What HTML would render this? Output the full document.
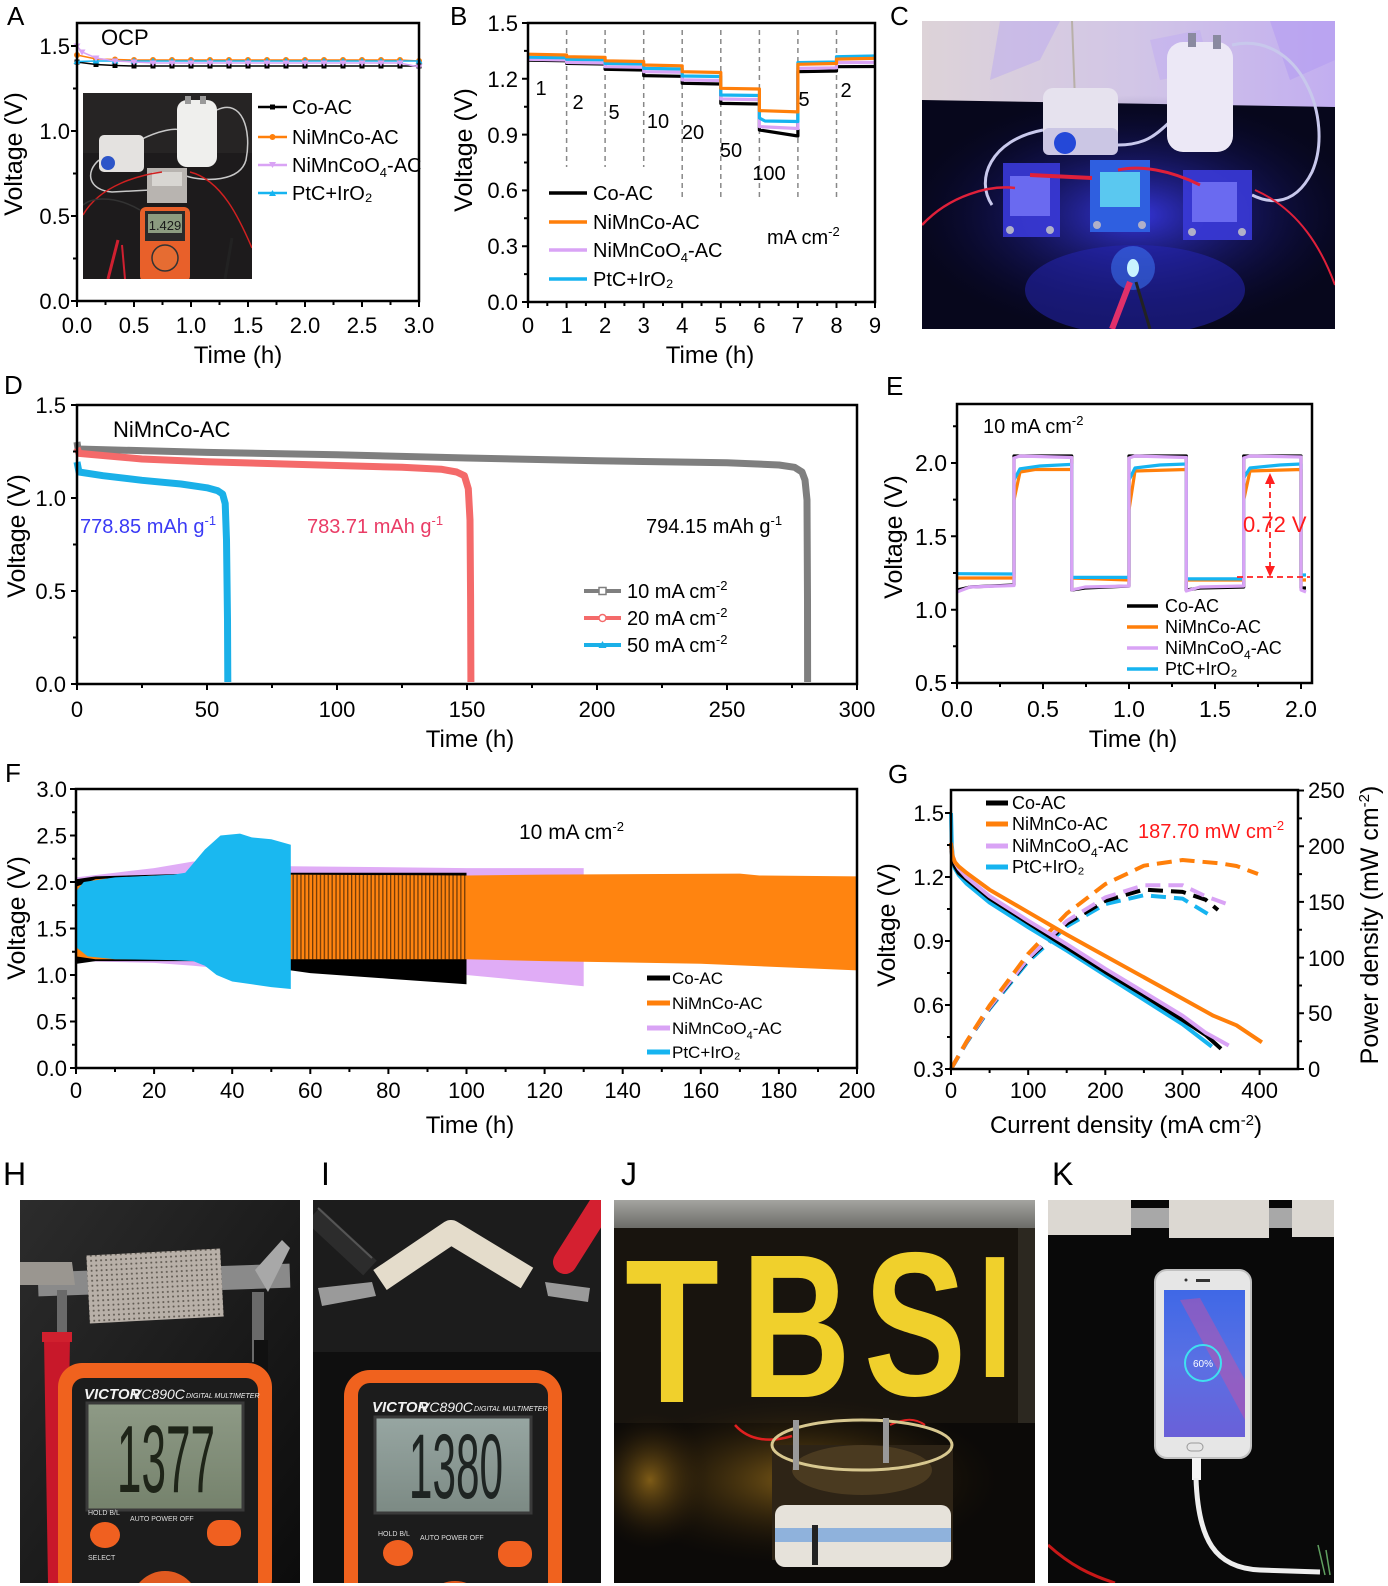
<!DOCTYPE html>
<html><head><meta charset="utf-8"><style>
html,body{margin:0;padding:0;background:#fff}
svg{display:block}
text{font-family:"Liberation Sans",Arial,sans-serif;fill:#000}
</style></head><body>
<svg width="1388" height="1586" viewBox="0 0 1388 1586" xmlns="http://www.w3.org/2000/svg">
<defs>
<marker id="mA1" markerUnits="userSpaceOnUse" markerWidth="8" markerHeight="8" refX="4" refY="4" viewBox="0 0 8 8"><rect x="1.5" y="1.5" width="5" height="5" fill="#000"/></marker>
<marker id="mA2" markerUnits="userSpaceOnUse" markerWidth="8" markerHeight="8" refX="4" refY="4" viewBox="0 0 8 8"><circle cx="4" cy="4" r="3" fill="#ff7f0a"/></marker>
<marker id="mA3" markerUnits="userSpaceOnUse" markerWidth="8" markerHeight="8" refX="4" refY="4" viewBox="0 0 8 8"><path d="M0.5,1.5 L7.5,1.5 L4,7.5Z" fill="#d9a3f5"/></marker>
<marker id="mA4" markerUnits="userSpaceOnUse" markerWidth="8" markerHeight="8" refX="4" refY="4" viewBox="0 0 8 8"><path d="M0.5,6.5 L7.5,6.5 L4,0.5Z" fill="#16b4f0"/></marker>
<linearGradient id="wallC" x1="0" y1="0" x2="1" y2="0"><stop offset="0" stop-color="#ddd3d8"/><stop offset="0.5" stop-color="#d2c6e6"/><stop offset="1" stop-color="#c2aef0"/></linearGradient>
<radialGradient id="glowC" cx="0.5" cy="0.5" r="0.5"><stop offset="0" stop-color="#3a3af0" stop-opacity="0.9"/><stop offset="1" stop-color="#0a0a40" stop-opacity="0"/></radialGradient>
<radialGradient id="glowJ" cx="0.5" cy="0.5" r="0.5"><stop offset="0" stop-color="#8a6418" stop-opacity="0.9"/><stop offset="1" stop-color="#201508" stop-opacity="0"/></radialGradient>
<linearGradient id="bgH" x1="0" y1="0" x2="1" y2="1"><stop offset="0" stop-color="#2c2c2c"/><stop offset="1" stop-color="#0c0c0c"/></linearGradient>
<linearGradient id="lcd" x1="0" y1="0" x2="0" y2="1"><stop offset="0" stop-color="#8e9a86"/><stop offset="1" stop-color="#75826c"/></linearGradient>
<linearGradient id="lcd2" x1="0" y1="0" x2="0" y2="1"><stop offset="0" stop-color="#97a6a2"/><stop offset="1" stop-color="#7c8a84"/></linearGradient>
<linearGradient id="phone" x1="0" y1="0" x2="0" y2="1"><stop offset="0" stop-color="#3f68e6"/><stop offset="0.5" stop-color="#5a70e4"/><stop offset="1" stop-color="#6a60d8"/></linearGradient>
<linearGradient id="topJ" x1="0" y1="0" x2="0" y2="1"><stop offset="0" stop-color="#a4a4a0"/><stop offset="1" stop-color="#6c6c68"/></linearGradient>
<pattern id="dots" width="5" height="5" patternUnits="userSpaceOnUse"><rect width="5" height="5" fill="#b8b0a8"/><circle cx="2.5" cy="2.5" r="1" fill="#5e5850"/></pattern>
<pattern id="vstripe" width="3.9" height="10" patternUnits="userSpaceOnUse"><rect width="1.3" height="10" fill="#000"/></pattern>
<clipPath id="cC"><rect x="922" y="21" width="413" height="308"/></clipPath>
<clipPath id="cAi"><rect x="83" y="93" width="169" height="186"/></clipPath>
<clipPath id="cH"><rect x="20" y="1200" width="280" height="383"/></clipPath>
<clipPath id="cI"><rect x="313" y="1200" width="288" height="383"/></clipPath>
<clipPath id="cJ"><rect x="614" y="1200" width="421" height="383"/></clipPath>
<clipPath id="cK"><rect x="1048" y="1200" width="286" height="383"/></clipPath>
</defs>

<!-- Panel labels -->
<g font-size="26">
<text x="7" y="25">A</text><text x="450" y="25">B</text><text x="890" y="25">C</text>
<text x="4" y="394">D</text><text x="886" y="395">E</text>
<text x="5" y="782">F</text><text x="888" y="783">G</text>
</g>
<g font-size="32">
<text x="3" y="1185">H</text><text x="321" y="1185">I</text><text x="621" y="1185">J</text><text x="1052" y="1185">K</text>
</g>

<!-- ================= PANEL A ================= -->
<g clip-path="url(#cAi)">
<rect x="83" y="93" width="169" height="186" fill="#1d1b1c"/>
<rect x="83" y="93" width="169" height="60" fill="#262424"/>
<path d="M99,160 C85,172 88,190 112,192 L150,190" stroke="#c8c8c8" stroke-width="1.5" fill="none"/>
<path d="M217,110 C242,98 252,130 246,160 C240,182 205,182 186,176" stroke="#c8c8c8" stroke-width="1.5" fill="none"/>
<path d="M140,140 C160,130 175,128 180,130" stroke="#c8c8c8" stroke-width="1.5" fill="none"/>
<rect x="99" y="135" width="45" height="37" rx="5" fill="#e4e2e0"/>
<circle cx="108" cy="163" r="7" fill="#2d55c8"/>
<rect x="177" y="100" width="40" height="67" rx="10" fill="#efefed"/>
<rect x="185" y="96" width="6" height="8" fill="#999"/><rect x="200" y="96" width="6" height="8" fill="#999"/>
<rect x="147" y="168" width="40" height="35" fill="#b8b4b0"/>
<rect x="152" y="172" width="30" height="14" fill="#d8d6d2"/>
<path d="M83,215 C100,185 140,175 162,172" stroke="#d02020" stroke-width="1.5" fill="none"/>
<path d="M190,172 C222,180 240,220 252,248" stroke="#d02020" stroke-width="1.5" fill="none"/>
<path d="M83,205 C95,195 120,198 140,210" stroke="#333" stroke-width="1.5" fill="none"/>
<rect x="140" y="207" width="50" height="75" rx="6" fill="#e8602a"/>
<rect x="145" y="211" width="40" height="30" fill="#2a2a2a"/>
<rect x="148" y="214" width="34" height="19" fill="#8c9c80"/>
<text x="165" y="230" font-size="13" text-anchor="middle" style="fill:#1a1a1a">1.429</text>
<circle cx="165" cy="258" r="13" fill="#e66c32" stroke="#333" stroke-width="1.5"/>
<path d="M108,279 L118,240" stroke="#d02030" stroke-width="3"/>
<path d="M125,279 L122,245" stroke="#d02030" stroke-width="2"/>
<path d="M225,279 L232,238" stroke="#222" stroke-width="3"/>
</g>
<g fill="none" stroke-width="1.5">
<polyline stroke="#000" marker-start="url(#mA1)" marker-mid="url(#mA1)" marker-end="url(#mA1)" points="77,62 96,64.5 115,65.5 134,66 153,66 172,66 191,66 210,66 229,66 248,66 267,66 286,66 305,66 324,66 343,66 362,66 381,66 400,66 419,66"/>
<polyline stroke="#ff7f0a" marker-start="url(#mA2)" marker-mid="url(#mA2)" marker-end="url(#mA2)" points="77,55 96,59 115,59.5 134,60 153,60 172,60 191,60 210,60 229,60 248,60 267,60 286,60 305,60 324,60 343,60 362,60 381,60 400,60 419,61"/>
<polyline stroke="#16b4f0" marker-start="url(#mA4)" marker-mid="url(#mA4)" marker-end="url(#mA4)" points="77,61.5 96,61 115,61 134,61 153,61 172,61 191,61 210,61 229,61 248,61 267,61 286,61 305,61 324,61 343,61 362,61 381,61 400,61 419,61"/>
<polyline stroke="#d9a3f5" marker-start="url(#mA3)" marker-mid="url(#mA3)" marker-end="url(#mA3)" points="77,46 82,52 96,58 115,61 134,62 153,63 172,63 191,63 210,63 229,63 248,63 267,63 286,63 305,63 324,63 343,63 362,63 381,63 400,63 419,67"/>
</g>
<rect x="77" y="23" width="342" height="278" fill="none" stroke="#000" stroke-width="2.5"/>
<path d="M77,301h-6M77,216h-6M77,131h-6M77,46h-6M77,258.5h-4M77,173.5h-4M77,88.5h-4M77,301v6M134,301v6M191,301v6M248,301v6M305,301v6M362,301v6M419,301v6M105.5,301v4M162.5,301v4M219.5,301v4M276.5,301v4M333.5,301v4M390.5,301v4" stroke="#000" stroke-width="2"/>
<g font-size="22" text-anchor="end">
<text x="70" y="309">0.0</text><text x="70" y="224">0.5</text><text x="70" y="139">1.0</text><text x="70" y="54">1.5</text>
</g>
<g font-size="22" text-anchor="middle">
<text x="77" y="333">0.0</text><text x="134" y="333">0.5</text><text x="191" y="333">1.0</text><text x="248" y="333">1.5</text><text x="305" y="333">2.0</text><text x="362" y="333">2.5</text><text x="419" y="333">3.0</text>
</g>
<text x="238" y="363" font-size="24" text-anchor="middle">Time (h)</text>
<text transform="translate(22,154) rotate(-90)" font-size="25" text-anchor="middle">Voltage (V)</text>
<text x="101" y="45" font-size="22">OCP</text>
<g stroke-width="2.5">
<line x1="258" y1="107" x2="287" y2="107" stroke="#000"/><rect x="270" y="104.5" width="5" height="5" fill="#000"/>
<line x1="258" y1="137" x2="287" y2="137" stroke="#ff7f0a"/><circle cx="272.5" cy="137" r="3" fill="#ff7f0a"/>
<line x1="258" y1="165" x2="287" y2="165" stroke="#d9a3f5"/><path d="M269,162 L276,162 L272.5,168Z" fill="#d9a3f5"/>
<line x1="258" y1="193" x2="287" y2="193" stroke="#16b4f0"/><path d="M269,196 L276,196 L272.5,190Z" fill="#16b4f0"/>
</g>
<g font-size="20">
<text x="292" y="114">Co-AC</text>
<text x="292" y="144">NiMnCo-AC</text>
<text x="292" y="172">NiMnCoO<tspan dy="5" font-size="13">4</tspan><tspan dy="-5">-AC</tspan></text>
<text x="292" y="200">PtC+IrO₂</text>
</g>

<!-- ================= PANEL B ================= -->
<g stroke="#888" stroke-width="1.5" stroke-dasharray="5,4">
<line x1="566.6" y1="30" x2="566.6" y2="167"/><line x1="605.1" y1="30" x2="605.1" y2="167"/><line x1="643.7" y1="30" x2="643.7" y2="167"/>
<line x1="682.2" y1="30" x2="682.2" y2="198"/><line x1="720.8" y1="30" x2="720.8" y2="198"/><line x1="759.4" y1="30" x2="759.4" y2="198"/>
<line x1="797.9" y1="30" x2="797.9" y2="198"/><line x1="836.5" y1="30" x2="836.5" y2="198"/>
</g>
<g fill="none" stroke-width="3.2" stroke-linejoin="round">
<path stroke="#000" d="M528,60.2 L566.6,60.8 L566.6,63.4 L605.1,64 L605.1,69.3 L643.7,70 L643.7,75.6 L682.2,76.3 L682.2,83.3 L720.8,84 L720.8,103.4 L759.4,104 L759.4,130 L797.9,136 L797.9,71.7 L836.5,71 L836.5,66.7 L875,66.5"/>
<path stroke="#d9a3f5" d="M528,59.3 L566.6,60 L566.6,62.4 L605.1,63 L605.1,66.7 L643.7,67.3 L643.7,71.7 L682.2,72.3 L682.2,79.9 L720.8,80.5 L720.8,99 L759.4,99.6 L759.4,126.6 L797.9,128.5 L797.9,68.4 L836.5,67.8 L836.5,62.6 L875,62.3"/>
<path stroke="#16b4f0" d="M528,57.2 L566.6,57.8 L566.6,59.3 L605.1,59.8 L605.1,63.4 L643.7,64 L643.7,68.4 L682.2,69 L682.2,76 L720.8,76.5 L720.8,95 L759.4,95.5 L759.4,118 L765,121 L797.9,121.5 L797.9,62.6 L836.5,62 L836.5,56.7 L875,56"/>
<path stroke="#ff7f0a" d="M528,54.2 L566.6,55 L566.6,56.7 L605.1,57.4 L605.1,60.8 L643.7,61.5 L643.7,65 L682.2,65.8 L682.2,71.7 L720.8,72.5 L720.8,88.3 L759.4,89 L759.4,110.6 L797.9,111.9 L797.9,64.3 L836.5,63.5 L836.5,59.1 L875,58.3"/>
</g>
<rect x="528" y="23" width="347" height="279" fill="none" stroke="#000" stroke-width="2.5"/>
<path d="M528,302h-6M528,246.2h-6M528,190.4h-6M528,134.6h-6M528,78.8h-6M528,23h-6M528,274.1h-4M528,218.3h-4M528,162.5h-4M528,106.7h-4M528,50.9h-4M528,302v6M566.6,302v6M605.1,302v6M643.7,302v6M682.2,302v6M720.8,302v6M759.4,302v6M797.9,302v6M836.5,302v6M875,302v6M547.3,302v4M585.9,302v4M624.4,302v4M663,302v4M701.5,302v4M740.1,302v4M778.6,302v4M817.2,302v4M855.8,302v4" stroke="#000" stroke-width="2"/>
<g font-size="22" text-anchor="end">
<text x="518" y="310">0.0</text><text x="518" y="254">0.3</text><text x="518" y="198">0.6</text><text x="518" y="143">0.9</text><text x="518" y="87">1.2</text><text x="518" y="31">1.5</text>
</g>
<g font-size="22" text-anchor="middle">
<text x="528" y="333">0</text><text x="566.6" y="333">1</text><text x="605.1" y="333">2</text><text x="643.7" y="333">3</text><text x="682.2" y="333">4</text><text x="720.8" y="333">5</text><text x="759.4" y="333">6</text><text x="797.9" y="333">7</text><text x="836.5" y="333">8</text><text x="875" y="333">9</text>
</g>
<text x="710" y="363" font-size="24" text-anchor="middle">Time (h)</text>
<text transform="translate(472,150) rotate(-90)" font-size="25" text-anchor="middle">Voltage (V)</text>
<g font-size="20" text-anchor="middle">
<text x="541" y="95">1</text><text x="578" y="109">2</text><text x="614" y="119">5</text><text x="658" y="128">10</text><text x="693" y="139">20</text><text x="731" y="157">50</text><text x="769" y="180">100</text><text x="804" y="106">5</text><text x="846" y="97">2</text>
</g>
<text x="767" y="244" font-size="20">mA cm<tspan dy="-8" font-size="13">-2</tspan></text>
<g stroke-width="3.5">
<line x1="549" y1="193" x2="587" y2="193" stroke="#000"/>
<line x1="549" y1="222" x2="587" y2="222" stroke="#ff7f0a"/>
<line x1="549" y1="250" x2="587" y2="250" stroke="#d9a3f5"/>
<line x1="549" y1="279" x2="587" y2="279" stroke="#16b4f0"/>
</g>
<g font-size="20">
<text x="593" y="200">Co-AC</text>
<text x="593" y="229">NiMnCo-AC</text>
<text x="593" y="257">NiMnCoO<tspan dy="5" font-size="13">4</tspan><tspan dy="-5">-AC</tspan></text>
<text x="593" y="286">PtC+IrO₂</text>
</g>

<!-- ================= PANEL C (photo) ================= -->
<g clip-path="url(#cC)">
<rect x="922" y="21" width="413" height="308" fill="#07071c"/>
<polygon points="922,21 1335,21 1335,107 922,100" fill="url(#wallC)"/>
<polygon points="1000,21 1060,21 1040,60 990,80" fill="#bcaaf0" opacity="0.5"/>
<polygon points="1150,40 1200,30 1210,70 1160,80" fill="#c0acf2" opacity="0.5"/>
<polygon points="1270,21 1335,21 1335,60 1290,80" fill="#b49cf2" opacity="0.6"/>
<line x1="1072" y1="21" x2="1075" y2="100" stroke="#b8b0a8" stroke-width="2"/>
<ellipse cx="1135" cy="215" rx="230" ry="120" fill="url(#glowC)"/>
<ellipse cx="1135" cy="290" rx="110" ry="45" fill="#2424b0" opacity="0.55"/>
<path d="M1043,130 C990,140 975,180 992,205" stroke="#c8c8ec" stroke-width="3" fill="none"/>
<path d="M1118,145 C1150,145 1160,130 1172,120" stroke="#c8c8ec" stroke-width="3" fill="none"/>
<path d="M1232,45 C1300,30 1335,120 1312,172 C1292,212 1262,200 1252,195" stroke="#c8c8ec" stroke-width="3" fill="none"/>
<rect x="1043" y="88" width="75" height="67" rx="10" fill="#e6e2ee"/>
<rect x="1043" y="128" width="75" height="27" rx="6" fill="#cbc6e4"/>
<circle cx="1065" cy="143" r="11" fill="#2448d8"/>
<rect x="1167" y="42" width="66" height="110" rx="16" fill="#ece8f6"/>
<rect x="1188" y="33" width="8" height="14" fill="#8a8aa0"/><rect x="1213" y="35" width="8" height="14" fill="#8a8aa0"/>
<rect x="1003" y="163" width="57" height="74" fill="#3a3ad8" opacity="0.9"/>
<rect x="1010" y="176" width="40" height="40" fill="#6a6af0"/>
<rect x="1090" y="160" width="60" height="72" fill="#2f5fe0"/>
<rect x="1100" y="172" width="40" height="35" fill="#5ac8f0"/>
<rect x="1183" y="170" width="69" height="70" fill="#3a3ad8" opacity="0.9"/>
<rect x="1192" y="182" width="45" height="40" fill="#6a6af0"/>
<g fill="#b0b0c8"><circle cx="1010" cy="230" r="4"/><circle cx="1050" cy="230" r="4"/><circle cx="1097" cy="225" r="4"/><circle cx="1142" cy="225" r="4"/><circle cx="1192" cy="232" r="4"/><circle cx="1242" cy="232" r="4"/></g>
<path d="M922,225 C950,195 990,185 1015,188" stroke="#e0203a" stroke-width="2.5" fill="none"/>
<path d="M1030,175 L1092,178" stroke="#e0203a" stroke-width="4" fill="none"/>
<path d="M1118,170 C1140,165 1170,170 1200,185" stroke="#e0203a" stroke-width="3" fill="none"/>
<path d="M1255,190 C1300,210 1322,250 1335,285" stroke="#e0203a" stroke-width="2" fill="none"/>
<circle cx="1133" cy="268" r="22" fill="#4080ff" opacity="0.5"/>
<ellipse cx="1133" cy="268" rx="6" ry="9" fill="#c8f4ff"/>
<path d="M1130,282 L1112,329" stroke="#e0306a" stroke-width="6"/>
<path d="M1136,282 L1150,329" stroke="#222" stroke-width="3"/>
</g>

<!-- ================= PANEL D ================= -->
<g fill="none" stroke-width="7" stroke-linejoin="round">
<path stroke="#7f7f7f" d="M77,442 L78,449 L207,452.4 L337,454.8 L467,458 L597,460.8 L727,462.7 L779,465 L794.6,467.3 L802,472 L805,480 L807,500 L807.5,600 L807.6,682"/>
<path stroke="#f46a6a" d="M77,448 L79,453.4 L142,459 L207,461.7 L272,463.6 L337,465.5 L402,467.3 L441,469.2 L456.6,472 L464.4,475.7 L468.3,488.7 L470,520 L470.6,600 L470.9,682"/>
<path stroke="#1ab0e8" d="M77,462 L79,472 L103,475.7 L142,480.3 L181,484 L207,487.8 L217.4,490.6 L222.6,494 L225.2,503.6 L226.5,540 L227.5,620 L227.8,682"/>
</g>
<rect x="77" y="405" width="780" height="279" fill="none" stroke="#000" stroke-width="2.5"/>
<path d="M77,684h-6M77,591h-6M77,498h-6M77,405h-6M77,637.5h-4M77,544.5h-4M77,451.5h-4M77,684v6M207,684v6M337,684v6M467,684v6M597,684v6M727,684v6M857,684v6M142,684v4M272,684v4M402,684v4M532,684v4M662,684v4M792,684v4" stroke="#000" stroke-width="2"/>
<g font-size="22" text-anchor="end">
<text x="66" y="692">0.0</text><text x="66" y="599">0.5</text><text x="66" y="506">1.0</text><text x="66" y="413">1.5</text>
</g>
<g font-size="22" text-anchor="middle">
<text x="77" y="717">0</text><text x="207" y="717">50</text><text x="337" y="717">100</text><text x="467" y="717">150</text><text x="597" y="717">200</text><text x="727" y="717">250</text><text x="857" y="717">300</text>
</g>
<text x="470" y="747" font-size="24" text-anchor="middle">Time (h)</text>
<text transform="translate(25,536) rotate(-90)" font-size="25" text-anchor="middle">Voltage (V)</text>
<text x="113" y="437" font-size="22">NiMnCo-AC</text>
<text x="80" y="533" font-size="20" style="fill:#3a3af5">778.85 mAh g<tspan dy="-8" font-size="13" style="fill:#3a3af5">-1</tspan></text>
<text x="307" y="533" font-size="20" style="fill:#ea3c66">783.71 mAh g<tspan dy="-8" font-size="13" style="fill:#ea3c66">-1</tspan></text>
<text x="646" y="533" font-size="20">794.15 mAh g<tspan dy="-8" font-size="13">-1</tspan></text>
<g stroke-width="4">
<line x1="584" y1="591" x2="621" y2="591" stroke="#7f7f7f"/><rect x="599" y="587.5" width="7" height="7" fill="#fff" stroke="#7f7f7f" stroke-width="1.5"/>
<line x1="584" y1="618" x2="621" y2="618" stroke="#f46a6a"/><circle cx="602.5" cy="618" r="3.5" fill="#fff" stroke="#f46a6a" stroke-width="1.5"/>
<line x1="584" y1="645" x2="621" y2="645" stroke="#1ab0e8"/><path d="M598.5,648 L606.5,648 L602.5,641Z" fill="#1ab0e8"/>
</g>
<g font-size="20">
<text x="627" y="598">10 mA cm<tspan dy="-8" font-size="13">-2</tspan></text>
<text x="627" y="625">20 mA cm<tspan dy="-8" font-size="13">-2</tspan></text>
<text x="627" y="652">50 mA cm<tspan dy="-8" font-size="13">-2</tspan></text>
</g>

<!-- ================= PANEL E ================= -->
<g fill="none" stroke-width="3.2" stroke-linejoin="round">
<path stroke="#000" d="M957,590 L970,587 L1014,585 L1014,456 L1071.7,456 L1071.7,590 L1085,588 L1129,586 L1129,456 L1186.3,456 L1186.3,590 L1200,588 L1243.7,587 L1243.7,456 L1301,456 L1301,588 L1306,588"/>
<path stroke="#ff7f0a" d="M957,578 L1014,578 L1014,500 L1020,472 L1035,469.5 L1071.7,469.5 L1071.7,578 L1129,580 L1129,510 L1135,471 L1186.3,469.5 L1186.3,580 L1243.7,580 L1243.7,500 L1250,471 L1301,469.5 L1301,580 L1306,580"/>
<path stroke="#16b4f0" d="M957,573.7 L1014,574 L1014,480 L1020,468.8 L1040,466 L1071.7,464.4 L1071.7,577.4 L1129,577.4 L1129,480 L1135,468 L1160,465 L1186.3,464 L1186.3,578.9 L1243.7,578.9 L1243.7,478 L1250,468 L1280,465 L1301,464 L1301,575 L1306,575"/>
<path stroke="#d9a3f5" d="M957,592 L970,587 L1014,585.5 L1014,458 L1020,456 L1071.7,457.5 L1071.7,590 L1085,587 L1129,586 L1129,458 L1135,456 L1186.3,457.5 L1186.3,591 L1200,587 L1243.7,586 L1243.7,458 L1250,456 L1301,457 L1301,590 L1306,592"/>
</g>
<g stroke="#ff2020" stroke-width="1.8" fill="none" stroke-dasharray="6,4">
<line x1="1237" y1="577" x2="1310" y2="577"/>
<line x1="1270" y1="482" x2="1270" y2="568"/>
</g>
<path d="M1265,484 L1275,484 L1270,473Z M1265,566 L1275,566 L1270,577Z" fill="#ff2020"/>
<text x="1243" y="532" font-size="22" style="fill:#ff1a1a">0.72 V</text>
<rect x="957" y="404" width="355" height="279" fill="none" stroke="#000" stroke-width="2.5"/>
<path d="M957,683h-6M957,609.7h-6M957,536.3h-6M957,463h-6M957,646.3h-4M957,573h-4M957,499.6h-4M957,426.3h-4M957,683v6M1043,683v6M1129,683v6M1215,683v6M1301,683v6M1000,683v4M1086,683v4M1172,683v4M1258,683v4" stroke="#000" stroke-width="2"/>
<g font-size="23" text-anchor="end">
<text x="947" y="691">0.5</text><text x="947" y="618">1.0</text><text x="947" y="545">1.5</text><text x="947" y="471">2.0</text>
</g>
<g font-size="23" text-anchor="middle">
<text x="957" y="717">0.0</text><text x="1043" y="717">0.5</text><text x="1129" y="717">1.0</text><text x="1215" y="717">1.5</text><text x="1301" y="717">2.0</text>
</g>
<text x="1133" y="747" font-size="24" text-anchor="middle">Time (h)</text>
<text transform="translate(902,537) rotate(-90)" font-size="25" text-anchor="middle">Voltage (V)</text>
<text x="983" y="433" font-size="20">10 mA cm<tspan dy="-8" font-size="13">-2</tspan></text>
<g stroke-width="3.5">
<line x1="1127" y1="606" x2="1158" y2="606" stroke="#000"/>
<line x1="1127" y1="627" x2="1158" y2="627" stroke="#ff7f0a"/>
<line x1="1127" y1="648" x2="1158" y2="648" stroke="#d9a3f5"/>
<line x1="1127" y1="669" x2="1158" y2="669" stroke="#16b4f0"/>
</g>
<g font-size="18">
<text x="1165" y="612">Co-AC</text>
<text x="1165" y="633">NiMnCo-AC</text>
<text x="1165" y="654">NiMnCoO<tspan dy="5" font-size="12">4</tspan><tspan dy="-5">-AC</tspan></text>
<text x="1165" y="675">PtC+IrO₂</text>
</g>

<!-- ================= PANEL F ================= -->
<polygon fill="#e0acf6" points="76,877.4 115,872.7 154.1,868.1 193.2,861.5 232.2,863.4 290.8,866.2 466.5,868.1 583.7,868.1 583.7,986.2 466.5,975 290.8,970.4 232.2,969.4 193.2,965.7 154.1,962.9 115,962 76,961.1"/>
<polygon fill="#000" points="76,879.2 95.5,876.4 193.2,873.6 290.8,872.7 466.5,872.7 466.5,984.3 388.4,978.7 310.3,973.1 290.8,970.4 193.2,961.1 95.5,961.1 76,963.9"/>
<polygon fill="#ff8410" points="76,886.7 95.5,879.2 154.1,875.5 290.8,874.6 466.5,875.5 544.6,874.6 739.9,873.6 759.4,875.5 857,876.4 857,970.4 700.8,963.8 544.6,961.1 466.5,959.2 290.8,959.2 95.5,959.2 76,956.4"/>
<polygon fill="url(#vstripe)" opacity="0.55" points="290.8,874.6 466.5,875.5 466.5,959.2 290.8,959.2"/>
<polygon fill="#1ab8f0" points="76,891.3 83.8,882 115,877.4 173.6,874.6 185.3,872.7 193.2,863.4 204.9,849.5 220.5,835.5 240,833.6 251.7,837.4 271.3,839.2 290.8,844.8 290.8,989 271.3,987.1 251.7,984.3 232.2,981.5 216.6,975 204.9,965.7 193.2,961.1 173.6,960.1 115,959.2 87.7,956.4 76,947"/>
<rect x="76" y="789" width="781" height="279" fill="none" stroke="#000" stroke-width="2.5"/>
<path d="M76,1068h-6M76,1021.5h-6M76,975h-6M76,928.5h-6M76,882h-6M76,835.5h-6M76,789h-6M76,1044.75h-4M76,998.25h-4M76,951.75h-4M76,905.25h-4M76,858.75h-4M76,812.25h-4M76,1068v6M154.1,1068v6M232.2,1068v6M310.3,1068v6M388.4,1068v6M466.5,1068v6M544.6,1068v6M622.7,1068v6M700.8,1068v6M778.9,1068v6M857,1068v6M115,1068v4M193.2,1068v4M271.3,1068v4M349.4,1068v4M427.5,1068v4M505.6,1068v4M583.7,1068v4M661.8,1068v4M739.9,1068v4M818,1068v4" stroke="#000" stroke-width="2"/>
<g font-size="22" text-anchor="end">
<text x="67" y="1076">0.0</text><text x="67" y="1029.5">0.5</text><text x="67" y="983">1.0</text><text x="67" y="936.5">1.5</text><text x="67" y="890">2.0</text><text x="67" y="843.5">2.5</text><text x="67" y="797">3.0</text>
</g>
<g font-size="22" text-anchor="middle">
<text x="76" y="1098">0</text><text x="154.1" y="1098">20</text><text x="232.2" y="1098">40</text><text x="310.3" y="1098">60</text><text x="388.4" y="1098">80</text><text x="466.5" y="1098">100</text><text x="544.6" y="1098">120</text><text x="622.7" y="1098">140</text><text x="700.8" y="1098">160</text><text x="778.9" y="1098">180</text><text x="857" y="1098">200</text>
</g>
<text x="470" y="1133" font-size="24" text-anchor="middle">Time (h)</text>
<text transform="translate(25,918) rotate(-90)" font-size="25" text-anchor="middle">Voltage (V)</text>
<text x="519" y="839" font-size="21">10 mA cm<tspan dy="-8" font-size="13">-2</tspan></text>
<g stroke-width="5">
<line x1="647" y1="978" x2="670" y2="978" stroke="#000"/>
<line x1="647" y1="1003" x2="670" y2="1003" stroke="#ff7f0a"/>
<line x1="647" y1="1028" x2="670" y2="1028" stroke="#d9a3f5"/>
<line x1="647" y1="1052" x2="670" y2="1052" stroke="#16b4f0"/>
</g>
<g font-size="17">
<text x="672" y="984">Co-AC</text>
<text x="672" y="1009">NiMnCo-AC</text>
<text x="672" y="1034">NiMnCoO<tspan dy="5" font-size="11">4</tspan><tspan dy="-5">-AC</tspan></text>
<text x="672" y="1058">PtC+IrO₂</text>
</g>

<!-- ================= PANEL G ================= -->
<g fill="none" stroke-width="4" stroke-linejoin="round" stroke-dasharray="15,8">
<path stroke="#16b4f0" d="M951,1069 L966.4,1042.9 L989.6,1008.8 L1028.2,961.5 L1066.7,926.4 L1105.3,904.1 L1143.9,895.2 L1182.5,898.6 L1211.8,916.4"/>
<path stroke="#000" d="M951,1069 L966.4,1042.5 L989.6,1007.7 L1028.2,959.3 L1066.7,923.6 L1105.3,900.8 L1143.9,889.6 L1182.5,891.9 L1205.6,899.7 L1218,910"/>
<path stroke="#d9a3f5" d="M951,1069 L966.4,1042.3 L989.6,1007.2 L1028.2,958.2 L1066.7,921.1 L1105.3,897.4 L1143.9,885.2 L1182.5,885.2 L1205.6,896.3 L1228.7,904.6"/>
<path stroke="#ff7f0a" d="M951,1069 L966.4,1041.8 L989.6,1005.5 L1028.2,953.7 L1066.7,913.6 L1105.3,884.1 L1143.9,865.7 L1182.5,860 L1221,863.5 L1236.5,866 L1258,874"/>
</g>
<g fill="none" stroke-width="4" stroke-linejoin="round">
<path stroke="#16b4f0" d="M951,813 L951.8,845 L953.3,862.1 L954.9,868.5 L958.7,874.9 L966.4,883.4 L989.6,902.6 L1028.2,927.2 L1066.7,950.6 L1105.3,975.2 L1143.9,999.7 L1182.5,1024.2 L1211.8,1046.6"/>
<path stroke="#000" d="M951,845 L952.5,860 L954.9,866.4 L958.7,872.8 L966.4,879.2 L989.6,898.4 L1028.2,922.9 L1066.7,947.4 L1105.3,972 L1143.9,995.4 L1182.5,1020 L1205.6,1034.9 L1221,1048.7"/>
<path stroke="#d9a3f5" d="M951,842.9 L952.5,855.7 L954.9,862.1 L958.7,868.5 L966.4,877 L989.6,896.2 L1028.2,920.8 L1066.7,944.2 L1105.3,968.8 L1143.9,992.2 L1182.5,1015.7 L1205.6,1032.7 L1217.2,1039.1 L1228.7,1045.5"/>
<path stroke="#ff7f0a" d="M951,842.9 L952.5,855.7 L954.9,862.1 L958.7,866.4 L966.4,872.8 L989.6,889.8 L1028.2,912.2 L1066.7,934.6 L1105.3,956 L1143.9,977.3 L1182.5,998.6 L1213.3,1015.7 L1236.5,1025.3 L1261.9,1042.3"/>
</g>
<rect x="951" y="790" width="347" height="279" fill="none" stroke="#000" stroke-width="2.5"/>
<path d="M951,1069h-6M951,1005h-6M951,941h-6M951,877h-6M951,813h-6M951,1037h-4M951,973h-4M951,909h-4M951,845h-4M1298,1069h6M1298,1013.3h6M1298,957.6h6M1298,901.9h6M1298,846.2h6M1298,790.5h6M1298,1041.2h4M1298,985.5h4M1298,929.8h4M1298,874.1h4M1298,818.4h4M951,1069v6M1028.2,1069v6M1105.3,1069v6M1182.5,1069v6M1259.6,1069v6M989.6,1069v4M1066.7,1069v4M1143.9,1069v4M1221,1069v4" stroke="#000" stroke-width="2"/>
<g font-size="22" text-anchor="end">
<text x="944" y="1077">0.3</text><text x="944" y="1013">0.6</text><text x="944" y="949">0.9</text><text x="944" y="885">1.2</text><text x="944" y="821">1.5</text>
</g>
<g font-size="22">
<text x="1308" y="1077">0</text><text x="1308" y="1021">50</text><text x="1308" y="966">100</text><text x="1308" y="910">150</text><text x="1308" y="854">200</text><text x="1308" y="798">250</text>
</g>
<g font-size="22" text-anchor="middle">
<text x="951" y="1098">0</text><text x="1028.2" y="1098">100</text><text x="1105.3" y="1098">200</text><text x="1182.5" y="1098">300</text><text x="1259.6" y="1098">400</text>
</g>
<text x="1126" y="1133" font-size="24" text-anchor="middle">Current density (mA cm<tspan dy="-8" font-size="15">-2</tspan><tspan dy="8">)</tspan></text>
<text transform="translate(895,925) rotate(-90)" font-size="25" text-anchor="middle">Voltage (V)</text>
<text transform="translate(1378,925) rotate(-90)" font-size="25" text-anchor="middle">Power density (mW cm<tspan dy="-9" font-size="15">-2</tspan><tspan dy="9">)</tspan></text>
<text x="1138" y="838" font-size="20" style="fill:#ff1a1a">187.70 mW cm<tspan dy="-8" font-size="13" style="fill:#ff1a1a">-2</tspan></text>
<g stroke-width="5">
<line x1="986" y1="803" x2="1008" y2="803" stroke="#000"/>
<line x1="986" y1="824" x2="1008" y2="824" stroke="#ff7f0a"/>
<line x1="986" y1="846" x2="1008" y2="846" stroke="#d9a3f5"/>
<line x1="986" y1="867" x2="1008" y2="867" stroke="#16b4f0"/>
</g>
<g font-size="18">
<text x="1012" y="809">Co-AC</text>
<text x="1012" y="830">NiMnCo-AC</text>
<text x="1012" y="852">NiMnCoO<tspan dy="5" font-size="12">4</tspan><tspan dy="-5">-AC</tspan></text>
<text x="1012" y="873">PtC+IrO₂</text>
</g>

<!-- ================= PANEL H (photo) ================= -->
<g clip-path="url(#cH)">
<rect x="20" y="1200" width="280" height="383" fill="url(#bgH)"/>
<rect x="38" y="1268" width="252" height="24" fill="#8a8a8a" transform="rotate(-2 164 1280)"/>
<rect x="88" y="1252" width="134" height="68" fill="url(#dots)" transform="rotate(-3 155 1286)"/>
<polygon points="20,1262 72,1262 75,1285 20,1285" fill="#9a9690"/>
<polygon points="255,1270 282,1240 290,1248 268,1292" fill="#a8a8a8"/>
<rect x="57" y="1290" width="10" height="55" fill="#6a6a6a"/>
<rect x="252" y="1292" width="12" height="70" fill="#6a6a6a"/>
<rect x="254" y="1340" width="14" height="250" fill="#111"/>
<polygon points="44,1338 70,1338 66,1583 48,1583" fill="#c8182a"/>
<rect x="42" y="1332" width="30" height="10" fill="#d0202e"/>
<rect x="58" y="1363" width="214" height="240" rx="24" fill="#f0621e"/>
<rect x="72" y="1378" width="186" height="220" rx="12" fill="#1c1c1c"/>
<text x="84" y="1399" font-size="15" font-weight="bold" font-style="italic" style="fill:#f2f2f2">VICTOR</text>
<text x="132" y="1399" font-size="14" font-style="italic" style="fill:#f2f2f2">VC890C</text>
<text x="186" y="1398" font-size="7" font-style="italic" style="fill:#f2f2f2">DIGITAL MULTIMETER</text>
<rect x="87" y="1403" width="156" height="107" fill="url(#lcd)" stroke="#3a3a3a" stroke-width="3"/>
<text transform="translate(166,1492) scale(0.46,1)" font-size="96" text-anchor="middle" style="fill:#1e2418">1377</text>
<ellipse cx="105" cy="1535" rx="15" ry="13" fill="#f06020"/>
<rect x="207" y="1520" width="34" height="26" rx="12" fill="#f06020"/>
<text x="88" y="1515" font-size="7" style="fill:#ddd">HOLD B/L</text>
<text x="130" y="1521" font-size="7" style="fill:#ddd">AUTO POWER OFF</text>
<text x="88" y="1560" font-size="7" style="fill:#ddd">SELECT</text>
<circle cx="165" cy="1605" r="34" fill="#e05a20"/>
</g>

<!-- ================= PANEL I (photo) ================= -->
<g clip-path="url(#cI)">
<rect x="313" y="1200" width="288" height="383" fill="#0f0f0f"/>
<rect x="313" y="1200" width="288" height="152" fill="#1c1c1c"/>
<path d="M313,1215 L370,1268" stroke="#2c2c2c" stroke-width="20"/>
<path d="M318,1208 L372,1258" stroke="#555" stroke-width="2"/>
<polygon points="318,1288 372,1282 376,1296 322,1306" fill="#9a9a9a"/>
<path d="M380,1280 L451,1232 L527,1278" stroke="#e4dccb" stroke-width="24" stroke-linejoin="round" fill="none"/>
<path d="M601,1205 L565,1262" stroke="#d42030" stroke-width="24" stroke-linecap="round"/>
<polygon points="545,1282 590,1288 588,1302 548,1296" fill="#9a9a9a"/>
<rect x="344" y="1370" width="218" height="240" rx="26" fill="#f0621e"/>
<rect x="358" y="1383" width="190" height="220" rx="12" fill="#1c1c1c"/>
<text x="372" y="1412" font-size="15" font-weight="bold" font-style="italic" style="fill:#f2f2f2">VICTOR</text>
<text x="420" y="1412" font-size="14" font-style="italic" style="fill:#f2f2f2">VC890C</text>
<text x="474" y="1411" font-size="7" font-style="italic" style="fill:#f2f2f2">DIGITAL MULTIMETER</text>
<rect x="375" y="1417" width="156" height="96" fill="url(#lcd2)" stroke="#3a3a3a" stroke-width="3"/>
<text transform="translate(456,1498) scale(0.46,1)" font-size="92" text-anchor="middle" style="fill:#1e2422">1380</text>
<ellipse cx="398" cy="1553" rx="15" ry="13" fill="#f06020"/>
<rect x="498" y="1541" width="34" height="26" rx="12" fill="#f06020"/>
<text x="378" y="1536" font-size="7" style="fill:#ddd">HOLD B/L</text>
<text x="420" y="1540" font-size="7" style="fill:#ddd">AUTO POWER OFF</text>
<circle cx="455" cy="1615" r="34" fill="#e05a20"/>
</g>

<!-- ================= PANEL J (photo) ================= -->
<g clip-path="url(#cJ)">
<rect x="614" y="1200" width="421" height="383" fill="#0c0a08"/>
<rect x="614" y="1200" width="421" height="28" fill="url(#topJ)"/>
<rect x="614" y="1228" width="410" height="195" fill="#18140e"/>
<rect x="1018" y="1228" width="17" height="195" fill="#2c2820"/>
<ellipse cx="800" cy="1480" rx="200" ry="85" fill="url(#glowJ)"/>
<ellipse cx="650" cy="1480" rx="60" ry="70" fill="url(#glowJ)"/>
<g font-weight="bold" font-size="205" text-anchor="middle" style="fill:#f0d02c">
<text transform="translate(672,1402) scale(0.75,1)" style="fill:#f0d02c">T</text>
<text transform="translate(796,1397) scale(0.74,1)" style="fill:#f0d02c">B</text>
<text transform="translate(915,1395) scale(0.75,1)" style="fill:#f0d02c">S</text>
<text transform="translate(995,1377) scale(0.62,0.85)" style="fill:#f0d02c">I</text>
</g>
<path d="M735,1425 C750,1442 772,1442 792,1436" stroke="#e02020" stroke-width="2.5" fill="none"/>
<path d="M890,1425 C905,1418 915,1418 925,1425" stroke="#e02020" stroke-width="2" fill="none"/>
<rect x="772" y="1445" width="181" height="115" fill="#2e2416"/>
<ellipse cx="862" cy="1470" rx="70" ry="25" fill="#4a3a20"/>
<rect x="775" y="1505" width="176" height="62" rx="10" fill="#e6e2da"/>
<rect x="775" y="1528" width="176" height="14" fill="#8fb2dc"/>
<ellipse cx="862" cy="1445" rx="90" ry="25" fill="none" stroke="#d8c890" stroke-width="3"/>
<rect x="793" y="1420" width="6" height="50" fill="#999"/>
<rect x="883" y="1418" width="6" height="45" fill="#999"/>
<rect x="812" y="1525" width="6" height="40" fill="#222"/>
</g>

<!-- ================= PANEL K (photo) ================= -->
<g clip-path="url(#cK)">
<rect x="1048" y="1200" width="286" height="383" fill="#090909"/>
<rect x="1048" y="1208" width="286" height="20" fill="#a8a8a8"/>
<rect x="1048" y="1200" width="83" height="35" fill="#dcd8d2"/>
<rect x="1169" y="1200" width="100" height="38" fill="#dcd8d2"/>
<rect x="1292" y="1200" width="42" height="37" fill="#dcd8d2"/>
<rect x="1155" y="1270" width="96" height="188" rx="12" fill="#e6e6e6" stroke="#c0c0c0" stroke-width="2"/>
<rect x="1164" y="1290" width="81" height="147" fill="url(#phone)"/>
<polygon points="1180,1300 1200,1298 1245,1380 1245,1420" fill="#d050a0" opacity="0.45"/>
<circle cx="1203" cy="1363" r="18" fill="none" stroke="#40e0f0" stroke-width="2"/>
<text x="1203" y="1367" font-size="10" text-anchor="middle" style="fill:#fff">60%</text>
<rect x="1196" y="1279" width="14" height="3" fill="#333"/>
<circle cx="1186" cy="1280" r="1.5" fill="#333"/>
<rect x="1187" y="1443" width="16" height="8" rx="4" fill="none" stroke="#999"/>
<rect x="1192" y="1458" width="9" height="22" fill="#f4f4f4"/>
<path d="M1196,1478 C1198,1540 1215,1568 1260,1570 L1320,1572" stroke="#eeeeee" stroke-width="5" fill="none"/>
<path d="M1048,1545 C1070,1565 1090,1575 1115,1583" stroke="#c81818" stroke-width="3" fill="none"/>
<path d="M1318,1545 L1325,1575 M1326,1550 L1330,1575" stroke="#60a060" stroke-width="1.5"/>
</g>
</svg>
</body></html>
